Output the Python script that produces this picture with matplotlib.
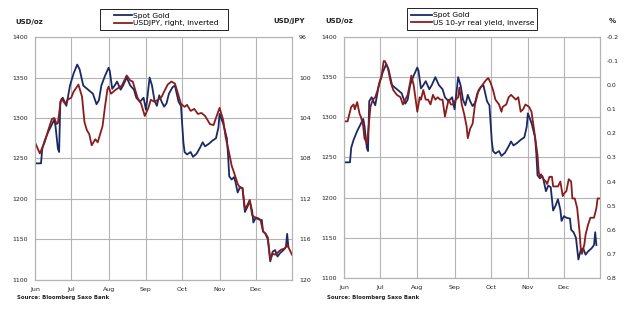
import matplotlib.pyplot as plt
import matplotlib.dates as mdates
from matplotlib.patches import Rectangle
import pandas as pd

# day offsets from 1 Jun 2016
gold_days = [0, 5, 6, 8, 11, 14, 16, 17, 19, 20, 21, 23, 26, 29, 32, 35, 37, 40, 44, 48,
             51, 53, 55, 58, 61, 62, 64, 66, 68, 71, 73, 76, 79, 82, 84, 87, 90, 92, 95, 97,
             99, 101, 103, 105, 107, 109, 111, 114, 116, 119, 121, 123, 124, 126, 129, 131, 134, 137, 139, 141,
             144, 147, 150, 152, 153, 156, 159, 160, 161, 163, 165, 166, 168, 170, 172, 174, 176, 178, 180, 181,
             183, 185, 188, 189, 191, 193, 195, 197, 199, 201, 203, 206, 208, 209, 210]
gold_usd = [1244, 1244, 1262, 1272, 1283, 1292, 1298, 1290, 1262, 1258, 1320, 1325, 1315, 1340, 1355, 1366, 1360, 1340, 1335, 1330,
            1317, 1322, 1340, 1352, 1362, 1358, 1336, 1340, 1345, 1335, 1340, 1350, 1340, 1335, 1325, 1320, 1325, 1310, 1350, 1340,
            1322, 1315, 1328, 1320, 1314, 1318, 1330, 1338, 1340, 1320, 1315, 1270, 1258, 1255, 1258, 1252, 1256, 1264, 1270, 1265,
            1268, 1272, 1275, 1288, 1305, 1293, 1275, 1255, 1228, 1224, 1227, 1222, 1208, 1215, 1213, 1184, 1190, 1198, 1185, 1171,
            1177, 1175, 1174, 1160, 1157, 1150, 1123, 1135, 1137, 1129, 1133, 1137, 1141, 1157, 1141]

jpy_days = [0, 4, 8, 11, 14, 16, 18, 19, 21, 22, 25, 27, 30, 32, 36, 39, 41, 43, 45, 47,
            50, 52, 54, 56, 58, 60, 61, 63, 67, 72, 76, 79, 81, 85, 88, 91, 94, 96, 99, 102,
            105, 107, 110, 113, 116, 119, 121, 124, 126, 129, 132, 135, 138, 141, 145, 148, 150, 153, 156, 158,
            161, 163, 165, 168, 170, 172, 174, 176, 178, 180, 182, 185, 187, 189, 191, 193, 195, 197, 199, 202,
            204, 207, 209, 211, 213]
usdjpy = [106.4, 107.5, 106.4, 105.2, 104.1, 104.0, 104.6, 104.5, 102.6, 102.1, 102.6, 102.2, 102.0, 101.4, 100.7, 101.9, 104.4, 105.2, 105.6, 106.7,
          106.1, 106.4, 105.6, 104.8, 102.9, 101.2, 100.9, 101.6, 101.2, 100.8, 99.8, 100.3, 100.4, 102.0, 102.6, 103.8, 103.0, 102.2, 102.4, 102.2,
          101.9, 101.4, 100.7, 100.4, 100.6, 101.8, 102.6, 102.9, 102.7, 103.3, 103.1, 103.6, 103.5, 103.8, 104.6, 104.7, 104.0, 103.0, 104.2, 105.9,
          107.5, 108.7, 109.4, 110.5, 110.9, 110.9, 113.0, 112.6, 112.1, 113.6, 113.8, 113.9, 114.1, 115.2, 115.4, 115.8, 118.0, 117.4, 117.5, 117.2,
          117.0, 116.9, 116.5, 117.0, 117.5]

ry_days = [0, 3, 6, 8, 9, 11, 13, 14, 16, 17, 19, 20, 22, 24, 26, 28, 30, 31, 33, 34,
           36, 37, 39, 41, 44, 47, 49, 51, 53, 55, 56, 58, 61, 63, 64, 66, 68, 70, 72, 74,
           76, 78, 80, 82, 84, 87, 89, 91, 93, 95, 96, 98, 100, 102, 103, 105, 107, 109, 111, 112,
           115, 118, 120, 122, 124, 126, 129, 131, 132, 135, 137, 139, 141, 143, 145, 147, 149, 151, 154, 156,
           158, 161, 162, 163, 164, 166, 168, 169, 171, 173, 174, 176, 178, 180, 182, 183, 185, 187, 189, 190,
           192, 194, 196, 197, 198, 200, 201, 203, 205, 208, 210, 211, 213]
real_yield = [0.15, 0.15, 0.09, 0.08, 0.10, 0.07, 0.12, 0.13, 0.17, 0.22, 0.24, 0.20, 0.09, 0.06, 0.05, 0.02, -0.02, -0.03, -0.10, -0.10,
              -0.08, -0.06, -0.01, 0.02, 0.04, 0.05, 0.08, 0.06, 0.04, -0.01, -0.04, 0.00, 0.11, 0.05, 0.06, 0.02, 0.06, 0.06, 0.08, 0.04,
              0.06, 0.05, 0.06, 0.06, 0.13, 0.06, 0.08, 0.08, 0.06, 0.05, 0.01, 0.08, 0.12, 0.17, 0.22, 0.18, 0.16, 0.08, 0.04, 0.02,
              0.00, -0.02, -0.03, -0.01, 0.02, 0.06, 0.08, 0.11, 0.09, 0.08, 0.05, 0.04, 0.05, 0.06, 0.05, 0.11, 0.10, 0.08, 0.09, 0.11,
              0.18, 0.29, 0.36, 0.38, 0.37, 0.39, 0.40, 0.41, 0.38, 0.38, 0.42, 0.42, 0.42, 0.40, 0.46, 0.45, 0.44, 0.39, 0.40, 0.47,
              0.47, 0.51, 0.61, 0.68, 0.70, 0.66, 0.62, 0.58, 0.55, 0.55, 0.51, 0.47, 0.47]

start = pd.Timestamp('2016-06-01')


def to_dates(days):
    return start + pd.to_timedelta(days, unit='D')


navy = '#1b2a66'
maroon = '#8a1c1c'
grid_c = '#b4b4b4'
fs = 4.5
W, H = 635, 312

fig = plt.figure(figsize=(6.35, 3.12), dpi=100)


def panel(rect, days2, vals2, label2, ylim2, ticks2, fmt2):
    ax = fig.add_axes(rect)
    l1, = ax.plot(to_dates(gold_days), gold_usd, color=navy, lw=1.3, label='Spot Gold', zorder=3)
    ax.set_ylim(1100, 1400)
    ax.set_yticks(range(1100, 1401, 50))
    ax.set_xlim(start, pd.Timestamp('2016-12-31'))
    ax.xaxis.set_major_locator(mdates.MonthLocator())
    ax.xaxis.set_major_formatter(mdates.DateFormatter('%b'))
    ax.grid(True, color=grid_c, lw=0.8)
    ax.tick_params(length=0, labelsize=fs, pad=5, colors='#222222')
    tw = ax.twinx()
    l2, = tw.plot(to_dates(days2), vals2, color=maroon, lw=1.3, label=label2, zorder=2)
    tw.set_ylim(*ylim2)
    tw.set_yticks(ticks2)
    tw.set_yticklabels([fmt2(t) for t in ticks2])
    tw.tick_params(length=0, labelsize=fs, pad=5, colors='#222222')
    for a in (ax, tw):
        for s in a.spines.values():
            s.set_color(grid_c)
            s.set_linewidth(0.8)
    return ax, [l1, l2]


ax1, h1 = panel([0.0551, 0.1026, 0.4047, 0.7788], jpy_days, usdjpy,
                'USDJPY, right, inverted', (120, 96), list(range(96, 121, 4)), lambda t: str(t))
ax2, h2 = panel([0.5417, 0.1090, 0.4032, 0.7724], ry_days, real_yield,
                'US 10-yr real yield, inverse', (0.8, -0.2),
                [-0.2, -0.1, 0.0, 0.1, 0.2, 0.3, 0.4, 0.5, 0.6, 0.7, 0.8], lambda t: '%.1f' % t)

# legend boxes (pixel boxes of the reference) and legends inside them
for h, box, hx, hl in ((h1, (100, 9, 228, 30), 114, 2.4), (h2, (407, 8, 537, 30), 411, 2.8)):
    x0, y0, x1, y1 = box
    fig.patches.append(Rectangle((x0 / W, 1 - y1 / H), (x1 - x0) / W, (y1 - y0) / H,
                                 transform=fig.transFigure, fill=False,
                                 edgecolor='#222222', lw=0.7))
    fig.legend(handles=h, loc='center left', bbox_to_anchor=(hx / W, 1 - (y0 + y1) / 2 / H),
               fontsize=5.4, frameon=False, handlelength=hl, borderpad=0,
               labelspacing=0.2, handletextpad=0.15, borderaxespad=0)

bold = dict(fontsize=5.0, fontweight='bold', va='center', color='#222222')
fig.text(15 / W, 1 - 22 / H, 'USD/oz', ha='left', **bold)
fig.text(305 / W, 1 - 21 / H, 'USD/JPY', ha='right', **bold)
fig.text(325 / W, 1 - 21 / H, 'USD/oz', ha='left', **bold)
fig.text(612 / W, 1 - 21 / H, '%', ha='center', **bold)

src = dict(fontsize=3.9, fontweight='bold', va='center', ha='left', color='#222222')
fig.text(17 / W, 1 - 298 / H, 'Source: Bloomberg Saxo Bank', **src)
fig.text(327 / W, 1 - 298 / H, 'Source: Bloomberg Saxo Bank', **src)

fig.savefig('out.png', dpi=100)
